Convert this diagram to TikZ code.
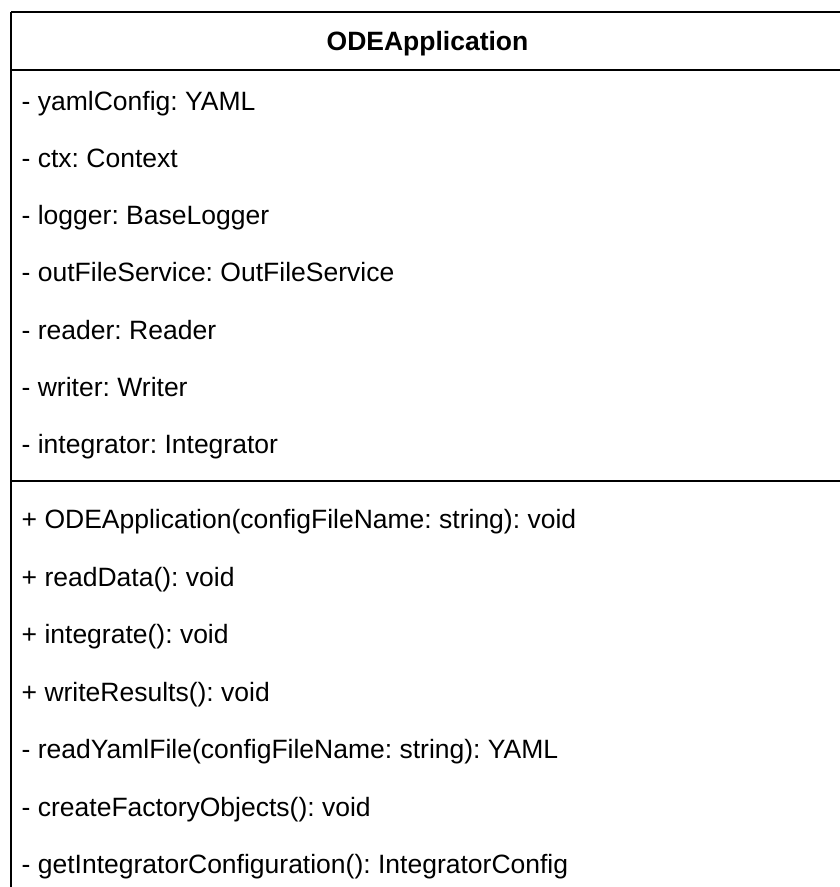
\documentclass[tikz,border=0pt]{standalone}
\usepackage{fontspec}
\setmainfont{Liberation Sans}
\frenchspacing
\begin{document}
\begin{tikzpicture}[x=1pt, y=-1pt,
  member/.style={anchor=base west, inner sep=0pt, font=\fontsize{26.5}{32}\selectfont},
  classname/.style={anchor=base, inner sep=0pt, font=\fontsize{26.5}{32}\selectfont\bfseries},
  umlline/.style={line width=2pt, draw=black}]
\useasboundingbox (0,0) rectangle (840,887);
\clip (0,0) rectangle (840,887);

% class frame: top edge, left edge and the two compartment separators
\draw[umlline] (11,12) -- (860,12);
\draw[umlline] (11,12) -- (11,900);
\draw[umlline] (11,70) -- (860,70);
\draw[umlline] (11,481) -- (860,481);

% class name
\node[classname] (title) at (427.5,50) {ODEApplication};

% attributes
\foreach \txt [count=\i from 0] in {
  {- yamlConfig: YAML},
  {- ctx: Context},
  {- logger: BaseLogger},
  {- outFileService: OutFileService},
  {- reader: Reader},
  {- writer: Writer},
  {- integrator: Integrator}}
  \node[member] (attr\i) at (21.5,{110+57.3*\i}) {\txt};

% operations
\foreach \txt [count=\i from 0] in {
  {+ ODEApplication(configFileName: string): void},
  {+ readData(): void},
  {+ integrate(): void},
  {+ writeResults(): void},
  {- readYamlFile(configFileName: string): YAML},
  {- createFactoryObjects(): void},
  {- getIntegratorConfiguration(): IntegratorConfig}}
  \node[member] (op\i) at (21.5,{528.5+57.54*\i}) {\txt};
\end{tikzpicture}
\end{document}
